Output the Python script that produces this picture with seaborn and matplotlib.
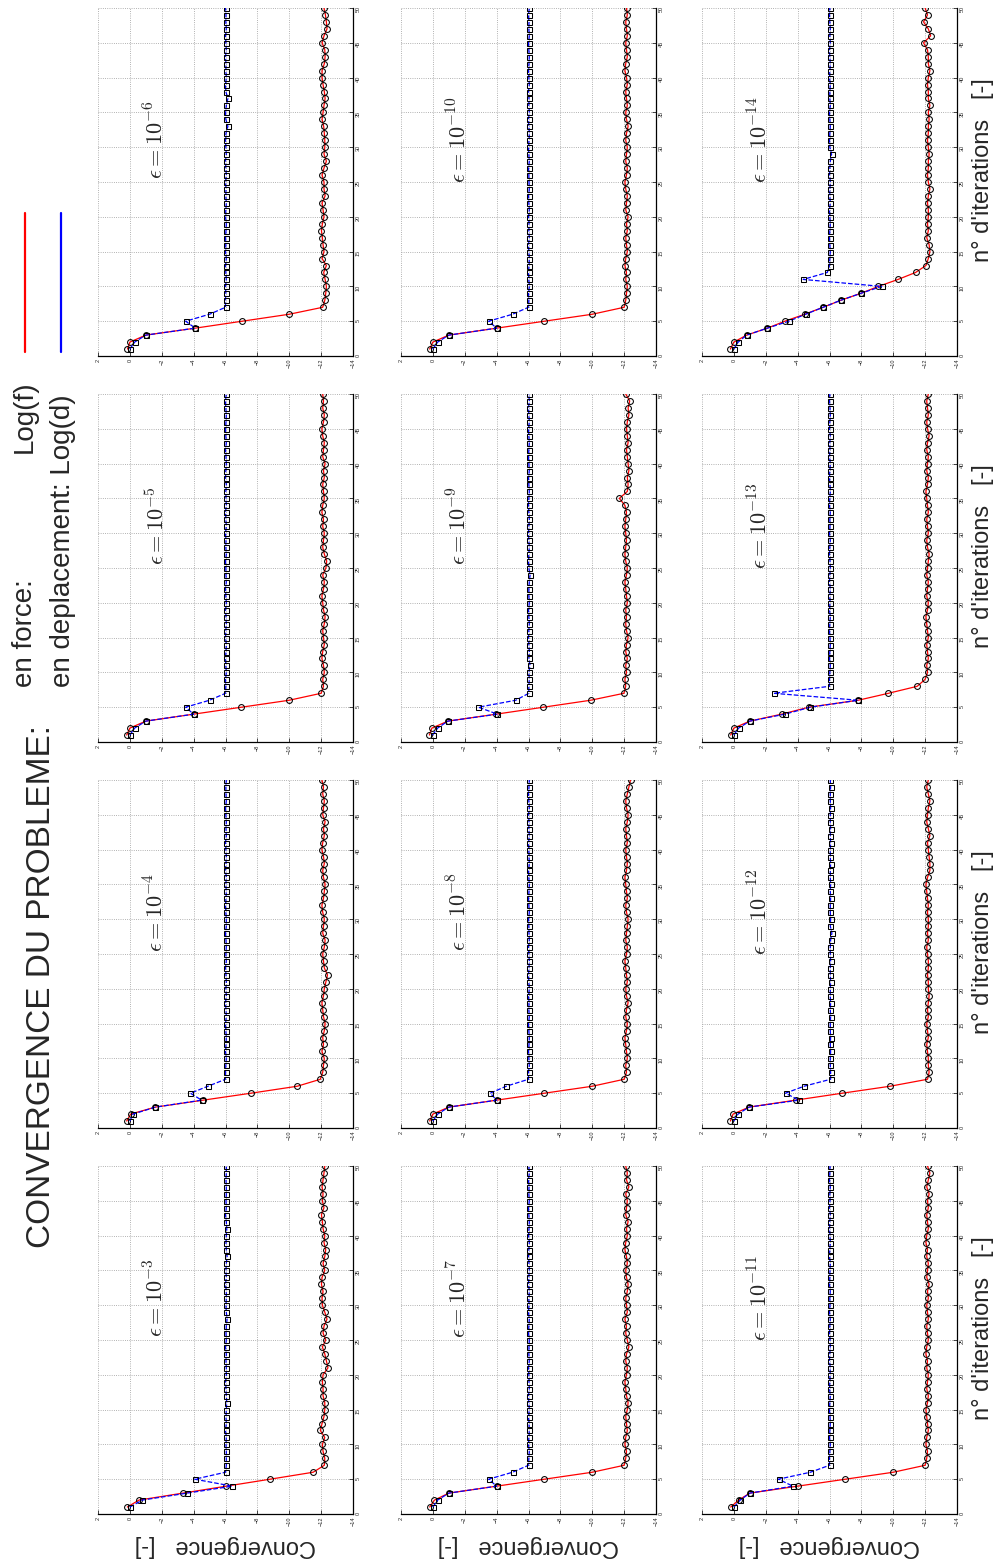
import matplotlib
matplotlib.use("Agg")
import matplotlib.pyplot as plt
import seaborn as sns
from matplotlib.lines import Line2D

sns.set_style("white")
plt.rcParams['font.family'] = ['Liberation Sans', 'DejaVu Sans']
plt.rcParams['mathtext.fontset'] = 'cm'

# iteration numbers shared by every panel
iterations = list(range(1, 51))

# log10 of residual in force (f) and in displacement (d), one pair per epsilon
f_1e3 = [0.16, -0.57, -3.33, -6.05, -8.80, -11.50, -12.20, -12.23, -12.12, -12.08, -12.23, -11.95, -12.06, -12.18, -12.23, -12.23,
         -12.12, -12.12, -12.08, -12.12, -12.43, -12.33, -12.23, -12.08, -12.29, -12.12, -12.18, -12.37, -12.23, -12.08, -12.06,
         -12.12, -12.02, -12.06, -12.23, -12.12, -12.23, -12.29, -12.18, -12.23, -12.12, -12.08, -12.02, -12.18, -12.08, -12.12,
         -12.06, -12.12, -12.18, -12.23]
d_1e3 = [0.00, -0.78, -3.59, -6.43, -4.07, -6.00, -6.05, -6.05, -6.05, -6.03, -6.05, -6.00, -6.05, -6.03, -6.05, -6.08, -6.05,
         -6.03, -6.00, -6.05, -6.05, -6.03, -6.05, -6.00, -6.05, -6.03, -6.05, -6.10, -6.05, -6.03, -6.05, -6.05, -6.00, -6.05,
         -6.03, -6.05, -6.10, -6.05, -6.03, -6.05, -6.08, -6.05, -6.00, -6.05, -6.03, -6.05, -6.05, -6.03, -6.05, -6.05]

f_1e4 = [0.20, -0.05, -1.60, -4.60, -7.60, -10.50, -11.95, -12.10, -12.15, -12.20, -12.05, -12.15, -12.10, -12.20, -12.25, -12.15,
         -12.10, -12.05, -12.15, -12.20, -12.30, -12.40, -12.20, -12.15, -12.10, -12.20, -12.25, -12.10, -12.15, -12.20, -12.10,
         -12.05, -12.15, -12.20, -12.25, -12.15, -12.10, -12.20, -12.15, -12.05, -12.10, -12.20, -12.15, -12.25, -12.10, -12.15,
         -12.20, -12.10, -12.15, -12.05]
d_1e4 = [0.00, -0.20, -1.60, -4.50, -3.80, -4.90, -6.00, -6.00, -6.02, -6.05, -6.00, -6.03, -6.05, -6.02, -6.00, -6.05, -6.03,
         -6.00, -6.05, -6.02, -6.05, -6.03, -6.00, -6.05, -6.02, -6.05, -6.03, -6.00, -6.05, -6.05, -6.02, -6.00, -6.03, -6.05,
         -6.02, -6.05, -6.00, -6.03, -6.05, -6.02, -6.00, -6.05, -6.03, -6.05, -6.02, -6.00, -6.05, -6.03, -6.02, -6.05]

f_1e5 = [0.20, 0.00, -1.00, -4.00, -7.00, -10.00, -12.00, -12.15, -12.10, -12.20, -12.15, -12.05, -12.10, -12.20, -12.15, -12.10,
         -12.20, -12.25, -12.15, -12.10, -12.05, -12.15, -12.20, -12.10, -12.30, -12.35, -12.20, -12.10, -12.15, -12.20, -12.10,
         -12.15, -12.05, -12.10, -12.20, -12.15, -12.10, -12.20, -12.15, -12.25, -12.10, -12.15, -12.20, -12.10, -12.05, -12.15,
         -12.20, -12.10, -12.15, -12.10]
d_1e5 = [0.00, -0.30, -1.00, -4.00, -3.50, -5.00, -6.00, -6.02, -6.00, -6.05, -6.02, -6.00, -6.03, -6.05, -6.00, -6.02, -6.05,
         -6.03, -6.00, -6.05, -6.02, -6.00, -6.05, -6.03, -6.02, -6.00, -6.05, -6.02, -6.03, -6.00, -6.05, -6.02, -6.00, -6.05,
         -6.03, -6.02, -6.05, -6.00, -6.02, -6.05, -6.03, -6.00, -6.05, -6.02, -6.00, -6.03, -6.05, -6.02, -6.00, -6.05]

f_1e6 = [0.15, 0.00, -1.00, -4.10, -7.05, -10.00, -12.10, -12.23, -12.29, -12.33, -12.25, -12.16, -12.33, -12.06, -12.18, -12.12,
         -12.08, -12.02, -12.08, -12.18, -12.12, -12.06, -12.25, -12.18, -12.18, -12.06, -12.18, -12.33, -12.18, -12.23, -12.23,
         -12.20, -12.16, -12.06, -12.12, -12.18, -12.25, -12.20, -12.12, -12.06, -12.06, -12.20, -12.25, -12.23, -12.06, -12.18,
         -12.37, -12.33, -12.27, -12.18]
d_1e6 = [0.00, -0.30, -1.00, -4.10, -3.50, -5.00, -6.00, -6.00, -6.02, -6.00, -6.05, -6.02, -6.00, -6.05, -6.00, -6.02, -6.00,
         -6.03, -6.05, -6.00, -6.02, -6.05, -6.02, -6.03, -6.00, -6.05, -6.02, -6.00, -6.05, -6.02, -6.00, -6.03, -6.15, -6.02,
         -6.00, -6.05, -6.15, -6.02, -6.00, -6.05, -6.02, -6.03, -6.00, -6.05, -6.02, -6.00, -6.05, -6.02, -6.03, -6.00]

f_1e7 = [0.20, -0.10, -1.00, -4.00, -7.00, -10.00, -12.00, -12.10, -12.15, -12.05, -12.10, -12.20, -12.15, -12.10, -12.20, -12.25,
         -12.15, -12.10, -12.05, -12.15, -12.20, -12.10, -12.15, -12.30, -12.20, -12.10, -12.15, -12.05, -12.20, -12.15, -12.10,
         -12.20, -12.25, -12.15, -12.10, -12.20, -12.15, -12.05, -12.10, -12.20, -12.15, -12.25, -12.10, -12.15, -12.20, -12.10,
         -12.30, -12.15, -12.20, -12.10]
d_1e7 = [0.00, -0.30, -1.00, -4.00, -3.50, -5.00, -6.00, -6.02, -6.05, -6.00, -6.02, -6.05, -6.03, -6.00, -6.05, -6.02, -6.00,
         -6.05, -6.03, -6.02, -6.00, -6.05, -6.02, -6.03, -6.05, -6.00, -6.02, -6.05, -6.00, -6.03, -6.02, -6.05, -6.00, -6.02,
         -6.05, -6.03, -6.00, -6.02, -6.05, -6.00, -6.03, -6.05, -6.02, -6.00, -6.05, -6.02, -6.03, -6.00, -6.05, -6.02]

f_1e8 = [0.20, 0.00, -1.00, -4.00, -7.00, -10.00, -12.00, -12.15, -12.10, -12.20, -12.15, -12.10, -12.05, -12.15, -12.20, -12.10,
         -12.15, -12.25, -12.15, -12.10, -12.20, -12.15, -12.10, -12.05, -12.15, -12.20, -12.10, -12.15, -12.20, -12.25, -12.15,
         -12.10, -12.20, -12.15, -12.10, -12.05, -12.15, -12.20, -12.15, -12.10, -12.20, -12.15, -12.10, -12.20, -12.25, -12.15,
         -12.10, -12.20, -12.30, -12.40]
d_1e8 = [0.00, -0.30, -1.00, -4.00, -3.60, -4.60, -6.00, -6.00, -6.05, -6.02, -6.00, -6.03, -6.05, -6.02, -6.00, -6.05, -6.02,
         -6.03, -6.00, -6.05, -6.02, -6.00, -6.03, -6.05, -6.02, -6.00, -6.05, -6.03, -6.02, -6.00, -6.05, -6.02, -6.00, -6.03,
         -6.05, -6.02, -6.00, -6.05, -6.03, -6.02, -6.00, -6.05, -6.02, -6.03, -6.00, -6.05, -6.02, -6.00, -6.03, -6.05]

f_1e9 = [0.22, 0.06, -0.94, -3.97, -6.94, -9.90, -11.99, -12.10, -12.05, -12.15, -12.10, -12.20, -12.10, -12.15, -12.25, -12.15,
         -12.10, -12.15, -12.10, -12.20, -12.15, -12.10, -12.05, -12.15, -12.20, -12.10, -12.05, -12.10, -12.15, -12.10, -12.05,
         -12.10, -12.15, -12.05, -11.70, -12.20, -12.25, -12.20, -12.30, -12.25, -12.20, -12.15, -12.25, -12.20, -12.15, -12.20,
         -12.30, -12.25, -12.35, -12.10]
d_1e9 = [0.02, -0.30, -0.94, -4.05, -2.86, -5.20, -6.02, -6.02, -6.05, -6.02, -6.10, -6.02, -6.05, -6.02, -6.00, -6.02, -6.05,
         -6.02, -6.00, -6.05, -6.02, -6.02, -6.05, -6.10, -6.02, -6.00, -6.02, -6.05, -6.02, -6.00, -6.02, -6.05, -6.02, -6.00,
         -6.02, -6.05, -6.02, -6.00, -6.05, -6.02, -6.00, -6.02, -6.05, -6.02, -6.00, -6.05, -6.02, -6.00, -6.05, -6.02]

f_1e10 = [0.20, 0.00, -1.00, -4.00, -7.00, -10.00, -12.00, -12.10, -12.15, -12.20, -12.10, -12.15, -12.05, -12.10, -12.20, -12.15,
          -12.10, -12.20, -12.15, -12.25, -12.10, -12.15, -12.20, -12.10, -12.05, -12.15, -12.20, -12.10, -12.15, -12.20, -12.10,
          -12.15, -12.25, -12.15, -12.10, -12.20, -12.15, -12.10, -12.20, -12.15, -12.05, -12.10, -12.20, -12.15, -12.10, -12.20,
          -12.15, -12.10, -12.20, -12.15]
d_1e10 = [0.00, -0.30, -1.00, -4.00, -3.50, -5.00, -6.00, -6.02, -6.00, -6.05, -6.02, -6.00, -6.03, -6.05, -6.02, -6.00, -6.05,
          -6.02, -6.03, -6.00, -6.05, -6.02, -6.00, -6.05, -6.03, -6.02, -6.00, -6.05, -6.02, -6.00, -6.03, -6.05, -6.02, -6.00,
          -6.05, -6.02, -6.03, -6.00, -6.05, -6.02, -6.00, -6.03, -6.05, -6.02, -6.00, -6.05, -6.02, -6.03, -6.00, -6.05]

f_1e11 = [0.20, -0.30, -1.00, -4.00, -7.00, -10.00, -12.00, -12.10, -12.15, -12.05, -12.10, -12.20, -12.15, -12.10, -12.05, -12.15,
          -12.20, -12.10, -12.15, -12.20, -12.10, -12.15, -12.05, -12.10, -12.20, -12.15, -12.10, -12.20, -12.15, -12.10, -12.20,
          -12.15, -12.25, -12.10, -12.15, -12.20, -12.10, -12.15, -12.05, -12.10, -12.20, -12.15, -12.10, -12.20, -12.15, -12.25,
          -12.10, -12.20, -12.30, -12.15]
d_1e11 = [0.00, -0.40, -1.00, -3.70, -2.80, -4.80, -6.00, -6.00, -6.02, -6.05, -6.00, -6.02, -6.05, -6.03, -6.00, -6.02, -6.05,
          -6.00, -6.02, -6.03, -6.05, -6.00, -6.02, -6.05, -6.03, -6.00, -6.02, -6.05, -6.00, -6.03, -6.02, -6.05, -6.00, -6.02,
          -6.03, -6.05, -6.00, -6.02, -6.05, -6.03, -6.00, -6.02, -6.05, -6.00, -6.03, -6.02, -6.05, -6.00, -6.02, -6.03]

f_1e12 = [0.22, 0.05, -0.95, -3.87, -6.80, -9.80, -12.15, -12.25, -12.20, -12.20, -12.15, -12.10, -12.20, -12.15, -12.10, -12.20,
          -12.15, -12.20, -12.25, -12.20, -12.20, -12.15, -12.20, -12.20, -12.15, -12.10, -12.20, -12.15, -12.20, -12.20, -12.15,
          -12.20, -12.15, -12.10, -12.05, -12.15, -12.30, -12.30, -12.25, -12.20, -12.15, -12.30, -12.20, -12.10, -12.15, -12.20,
          -12.30, -12.20, -12.10, -12.20]
d_1e12 = [0.00, -0.26, -0.95, -4.08, -3.24, -4.40, -6.07, -6.07, -6.05, -6.05, -6.07, -6.05, -6.07, -6.05, -6.05, -6.07, -6.05,
          -6.07, -6.05, -6.05, -6.07, -6.05, -6.05, -6.07, -6.05, -6.05, -6.07, -6.15, -6.05, -6.07, -6.05, -6.05, -6.07, -6.05,
          -6.07, -6.05, -6.05, -6.07, -6.05, -6.05, -6.07, -6.05, -6.07, -6.05, -6.05, -6.07, -6.05, -6.05, -6.07, -6.05]

f_1e13 = [0.20, 0.00, -1.00, -3.00, -4.70, -7.80, -9.70, -11.50, -12.00, -12.15, -12.10, -12.20, -12.15, -12.10, -12.20, -12.15,
          -12.10, -12.05, -12.15, -12.20, -12.10, -12.15, -12.20, -12.10, -12.15, -12.20, -12.25, -12.15, -12.10, -12.20, -12.15,
          -12.10, -12.20, -12.15, -12.10, -12.05, -12.15, -12.20, -12.10, -12.15, -12.20, -12.10, -12.15, -12.25, -12.15, -12.10,
          -12.20, -12.15, -12.10, -12.20]
d_1e13 = [0.00, -0.30, -1.00, -3.20, -4.80, -7.80, -2.50, -6.00, -6.00, -6.02, -6.05, -6.00, -6.02, -6.05, -6.03, -6.00, -6.02,
          -6.05, -6.00, -6.03, -6.02, -6.05, -6.00, -6.02, -6.05, -6.03, -6.00, -6.02, -6.05, -6.00, -6.03, -6.02, -6.05, -6.00,
          -6.02, -6.05, -6.03, -6.00, -6.02, -6.05, -6.00, -6.03, -6.02, -6.05, -6.00, -6.02, -6.05, -6.03, -6.00, -6.02]

f_1e14 = [0.22, 0.00, -0.80, -2.10, -3.20, -4.45, -5.60, -6.70, -7.96, -9.07, -10.30, -11.40, -12.05, -12.20, -12.30, -12.25,
          -12.10, -12.20, -12.15, -12.20, -12.20, -12.15, -12.20, -12.30, -12.20, -12.15, -12.20, -12.20, -12.25, -12.20, -12.15,
          -12.20, -12.20, -12.25, -12.20, -12.30, -12.20, -12.20, -12.15, -12.20, -12.30, -12.20, -12.20, -12.15, -11.90, -12.35,
          -12.20, -11.90, -12.15, -12.00]
d_1e14 = [0.00, -0.27, -0.80, -2.10, -3.45, -4.50, -5.60, -6.70, -7.96, -9.28, -4.35, -5.86, -6.00, -6.02, -6.05, -6.02, -6.00,
          -6.02, -6.05, -6.02, -6.00, -6.05, -6.02, -6.02, -6.05, -6.00, -6.02, -6.05, -6.13, -6.02, -6.00, -6.02, -6.05, -6.02,
          -6.00, -6.05, -6.02, -6.02, -6.05, -6.00, -6.02, -6.05, -6.02, -6.00, -6.05, -6.02, -6.05, -6.02, -6.00, -6.02]

exponents = [3, 4, 5, 6, 7, 8, 9, 10, 11, 12, 13, 14]
force_series = [f_1e3, f_1e4, f_1e5, f_1e6, f_1e7, f_1e8, f_1e9, f_1e10, f_1e11, f_1e12, f_1e13, f_1e14]
disp_series = [d_1e3, d_1e4, d_1e5, d_1e6, d_1e7, d_1e8, d_1e9, d_1e10, d_1e11, d_1e12, d_1e13, d_1e14]

conv_ticks = list(range(2, -15, -2))
iter_ticks = list(range(0, 51, 5))

W, H = 999, 1566
fig = plt.figure(figsize=(W / 100, H / 100), dpi=100)

# page is shown turned a quarter turn: columns of panels, iterations going up
col_left = [98, 401, 702]
row_top = [8, 394, 780, 1166]
pw, ph = 255, 348

for i, k in enumerate(exponents):
    col = i // 4
    row = 3 - (i % 4)
    ax = fig.add_axes([col_left[col] / W, 1 - (row_top[row] + ph) / H, pw / W, ph / H])

    sns.lineplot(x=force_series[i], y=iterations, sort=False, estimator=None, ax=ax,
                 color='red', linewidth=0.9, marker='o', markersize=4.2,
                 markerfacecolor='none', markeredgecolor='black', markeredgewidth=0.75)
    sns.lineplot(x=disp_series[i], y=iterations, sort=False, estimator=None, ax=ax,
                 color='blue', linewidth=0.9, linestyle='--', marker='s', markersize=3.6,
                 markerfacecolor='none', markeredgecolor='black', markeredgewidth=0.75)

    ax.set_xlim(2, -14)
    ax.set_ylim(0, 50)
    ax.set_xticks(conv_ticks)
    ax.set_yticks(iter_ticks)
    ax.grid(True, linestyle=':', color='0.6', linewidth=0.6)
    for side in ['top', 'left']:
        ax.spines[side].set_visible(False)
    for side in ['bottom', 'right']:
        ax.spines[side].set_color('black')
        ax.spines[side].set_linewidth(0.9)
    ax.tick_params(axis='both', direction='in', length=3, width=0.6, labelsize=4, pad=2)
    ax.tick_params(axis='x', labelrotation=90, bottom=True)
    ax.tick_params(axis='y', labelrotation=90, left=False, right=True,
                   labelleft=False, labelright=True)

    ax.text(-1.7, 31, r'$\epsilon = 10^{-%d}$' % k, rotation=90,
            ha='center', va='center', fontsize=16)

    ax.set_xlabel('')
    ax.set_ylabel('')
    if row == 3:
        ax.set_xlabel('Convergence   [-]', rotation=180, fontsize=17, labelpad=6)
    if col == 2:
        ax.yaxis.set_label_position('right')
        ax.set_ylabel("n° d'iterations   [-]", rotation=90, fontsize=17)
        ax.yaxis.set_label_coords(1.059, 0.535)

# title and legend along the left strip
fig.text(42 / W, 1 - 1248 / H, 'CONVERGENCE DU PROBLEME:', rotation=90,
         ha='center', va='bottom', fontsize=24)
fig.text(25 / W, 1 - 687 / H, 'en force:', rotation=90, ha='center', va='bottom', fontsize=20)
fig.text(25 / W, 1 - 380 / H, 'Log(f)', rotation=90, ha='center', va='top', fontsize=20)
fig.text(63 / W, 1 - 687 / H, 'en deplacement: Log(d)', rotation=90, ha='center', va='bottom', fontsize=20)
fig.add_artist(Line2D([25 / W, 25 / W], [1 - 352 / H, 1 - 213 / H], color='red', linewidth=1.6))
fig.add_artist(Line2D([61 / W, 61 / W], [1 - 352 / H, 1 - 213 / H], color='blue', linewidth=1.6))

fig.savefig('out.png', dpi=100)
